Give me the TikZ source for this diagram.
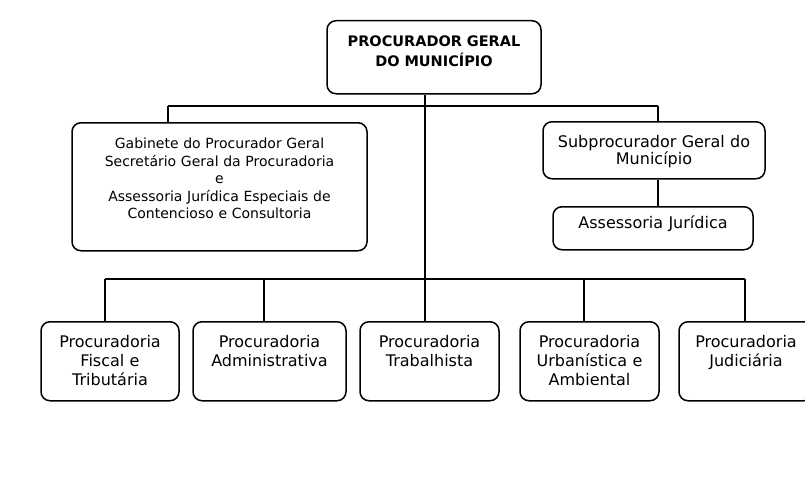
\documentclass[tikz,border=0pt]{standalone}
\usepackage{fontspec}
\setmainfont{DejaVu Sans}

\begin{document}
\begin{tikzpicture}[
    x=1pt, y=-1pt,
    org/.style={draw, line width=1.5pt, rounded corners=9pt, align=center, inner sep=0pt, anchor=north},
    unit/.style={org, text height=26pt, text depth=53pt, font=\fontsize{16}{19}\selectfont},
    ln/.style={line width=1.5pt}
  ]
    \useasboundingbox (0,0) rectangle (805,503);
    \clip (0,0) rectangle (805,503);
    % top of the chart
    \node[org, text width=214pt, text height=26pt, text depth=47pt,
      font=\bfseries\fontsize{14.5}{20}\selectfont] (pgm) at (434,20)
      {PROCURADOR GERAL\\DO MUNIC\'IPIO};
    \node[org, text width=295pt, text height=26pt, text depth=102pt,
      font=\fontsize{14}{17.5}\selectfont] (gab) at (219.5,122)
      {Gabinete do Procurador Geral\\Secret\'ario Geral da Procuradoria\\e\\Assessoria Jur\'idica Especiais de\\Contencioso e Consultoria};
    \node[org, text width=222pt, text height=26pt, text depth=31pt,
      font=\fontsize{16}{17}\selectfont] (sub) at (654,121)
      {Subprocurador Geral do\\Munic\'ipio};
    \node[org, text width=200pt, text height=22pt, text depth=21pt,
      font=\fontsize{16}{17}\selectfont] (ass) at (653,206)
      {Assessoria Jur\'idica};
    % procuradorias
    \node[unit, text width=138pt] (fis) at (110,321) {Procuradoria\\Fiscal e\\Tribut\'aria};
    \node[unit, text width=153pt] (adm) at (269.5,321) {Procuradoria\\Administrativa};
    \node[unit, text width=139pt] (tra) at (429.5,321) {Procuradoria\\Trabalhista};
    \node[unit, text width=139pt] (urb) at (589.5,321) {Procuradoria\\Urban\'istica e\\Ambiental};
    \node[unit, text width=134pt] (jud) at (746,321) {Procuradoria\\Judici\'aria};
    % connectors
    \coordinate (ul) at (168,106);
    \coordinate (ur) at (658,106);
    \coordinate (hub) at (425,279);
    \draw[ln] (pgm.south -| hub) -- (hub);
    \draw[ln] (ul) -- (ur);
    \draw[ln] (ul) -- (ul |- gab.north);
    \draw[ln] (ur) -- (ur |- sub.north);
    \draw[ln] (ur |- sub.south) -- (ur |- ass.north);
    \draw[ln] (105,279) -- (745,279);
    \foreach \b/\x in {fis/105, adm/264, tra/425, urb/584, jud/745}{
      \coordinate (d\b) at (\x,279);
      \draw[ln] (d\b) -- (d\b |- \b.north);
    }
\end{tikzpicture}
\end{document}
